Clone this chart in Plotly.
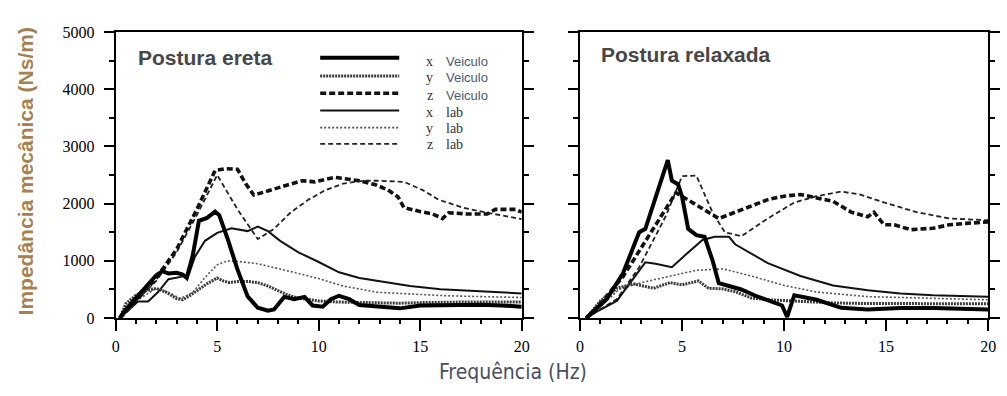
import plotly.graph_objects as go

# ---------------- data: left panel (Postura ereta) ----------------
L_xv_x = [0.2, 0.5, 1, 1.5, 2, 2.3, 2.6, 3, 3.3, 3.5, 3.8, 4.1, 4.5, 4.9, 5.1, 5.5, 6, 6.5, 7, 7.5, 7.8, 8.3, 8.8, 9.3, 9.7, 10.2, 10.6, 11, 11.5, 12, 13, 14, 15, 16, 17, 18, 19, 20]
L_xv_y = [0, 150, 350, 550, 750, 820, 780, 790, 760, 700, 1100, 1700, 1750, 1860, 1800, 1400, 850, 380, 180, 130, 150, 370, 330, 370, 220, 200, 330, 390, 330, 230, 200, 170, 220, 230, 235, 235, 220, 200]

L_yv_x = [0.2, 0.5, 1, 1.5, 2, 2.5, 3, 3.3, 3.6, 4, 4.5, 5, 5.3, 5.6, 6, 6.5, 7, 7.5, 8, 8.5, 9, 10, 11, 12, 13, 14, 15, 16, 17, 18, 19, 20]
L_yv_y = [0, 250, 400, 480, 520, 450, 340, 320, 380, 480, 600, 700, 650, 620, 640, 640, 620, 560, 480, 400, 350, 300, 280, 270, 260, 260, 270, 280, 280, 280, 280, 280]

L_zv_x = [0.2, 1, 2, 3, 4, 4.9, 5.4, 6, 6.4, 6.8, 7.3, 7.8, 8.5, 9.2, 9.8, 10.8, 12.0, 12.8, 13.4, 13.9, 14.2, 14.9, 15.6, 16.1, 16.4, 17.3, 18.3, 18.7, 19.7, 20]
L_zv_y = [0, 300, 700, 1200, 1900, 2580, 2610, 2600, 2350, 2150, 2200, 2260, 2330, 2400, 2380, 2460, 2400, 2330, 2240, 2120, 1930, 1870, 1820, 1740, 1840, 1820, 1820, 1900, 1900, 1850]

L_xl_x = [0.2, 1.1, 1.6, 2.1, 2.6, 3.2, 3.6, 3.9, 4.4, 5.0, 5.7, 6.5, 7.0, 7.5, 8.1, 9.0, 10.0, 11.0, 12.0, 13.0, 14.5, 16.0, 18.0, 20]
L_xl_y = [0, 290, 290, 460, 680, 720, 760, 1070, 1350, 1490, 1570, 1520, 1600, 1520, 1350, 1150, 980, 800, 700, 640, 560, 505, 470, 430]

L_yl_x = [0.2, 1, 2, 2.6, 3.2, 3.8, 4.5, 5.0, 5.5, 6.0, 7.0, 8.0, 9.0, 10.0, 11.2, 12.9, 14.6, 16.3, 18, 20]
L_yl_y = [0, 300, 520, 450, 340, 450, 750, 930, 1000, 990, 950, 870, 780, 690, 560, 450, 420, 390, 375, 360]

L_zl_x = [0.2, 1, 2, 3, 4, 5.0, 6.0, 7.0, 7.8, 8.6, 9.5, 10.3, 11.2, 12.2, 12.9, 14.2, 15.1, 15.9, 17.1, 18.3, 20]
L_zl_y = [0, 300, 650, 1150, 1800, 2500, 1900, 1380, 1560, 1840, 2070, 2230, 2350, 2400, 2400, 2380, 2240, 2070, 1930, 1840, 1730]

# ---------------- data: right panel (Postura relaxada) ----------------
R_xv_x = [0.3, 1.3, 2.1, 2.9, 3.2, 3.7, 4.05, 4.3, 4.5, 4.8, 5.0, 5.3, 5.7, 6.1, 6.5, 6.8, 7.3, 7.9, 8.6, 9.2, 9.9, 10.15, 10.5, 11.6, 12.8, 14.1, 15.7, 17.3, 18.9, 20]
R_xv_y = [0, 330, 780, 1500, 1560, 2120, 2500, 2760, 2400, 2340, 2120, 1560, 1450, 1420, 1000, 610, 560, 500, 390, 310, 220, 20, 400, 320, 180, 150, 175, 175, 165, 150]

R_yv_x = [0.3, 1.0, 1.8, 2.6, 3.6, 4.4, 5.0, 5.8, 6.3, 7.0, 7.6, 8.4, 9.2, 10.8, 12.4, 14, 16, 18, 20]
R_yv_y = [0, 300, 520, 600, 520, 620, 580, 650, 520, 510, 460, 350, 320, 290, 265, 255, 250, 250, 250]

R_zv_x = [0.3, 0.5, 2.1, 3.4, 4.7, 5.5, 6.8, 7.6, 8.4, 9.2, 10.0, 10.8, 11.6, 12.4, 13.3, 14.1, 14.4, 14.9, 15.4, 16.2, 17.3, 18.1, 18.9, 20]
R_zv_y = [0, 55, 720, 1450, 2190, 2020, 1740, 1850, 1960, 2070, 2130, 2160, 2100, 2040, 1850, 1770, 1850, 1630, 1630, 1545, 1570, 1630, 1655, 1680]

R_zl_x = [0.3, 1.8, 2.9, 4.2, 5.0, 5.7, 6.5, 7.1, 7.9, 9.2, 10.5, 11.6, 12.8, 13.7, 14.9, 16.5, 18.1, 20]
R_zl_y = [0, 330, 890, 1780, 2480, 2490, 1840, 1500, 1430, 1740, 2020, 2130, 2210, 2160, 2020, 1850, 1740, 1710]

R_xl_x = [0.3, 0.8, 1.8, 2.4, 3.2, 3.7, 4.5, 5.2, 6.0, 6.6, 7.3, 7.6, 9.2, 10.8, 12.4, 14.1, 15.7, 17.3, 20]
R_xl_y = [0, 110, 300, 585, 975, 950, 890, 1115, 1365, 1420, 1420, 1290, 960, 735, 570, 485, 430, 400, 375]

R_yl_x = [0.3, 1.0, 1.9, 2.9, 4.0, 5.7, 7.0, 8.4, 10.0, 11.6, 14.1, 17.3, 20]
R_yl_y = [0, 200, 500, 610, 700, 835, 860, 735, 570, 455, 375, 345, 320]

# ---------------- labels ----------------
panel_titles = ["Postura ereta", "Postura relaxada"]
legend_axes = ["x", "y", "z", "x", "y", "z"]
legend_names = ["Veiculo", "Veiculo", "Veiculo", "lab", "lab", "lab"]
y_title = "Impedância mecânica (Ns/m)"
x_title = "Frequência (Hz)"
y_ticks = [0, 1000, 2000, 3000, 4000, 5000]
x_ticks = [0, 5, 10, 15, 20]

# ---------------- styles ----------------
styles = [
    dict(width=4.0, dash="solid", color="#000000"),       # x Veiculo
    dict(width=3.0, dash="2px,1px", color="#3a3a3a"),     # y Veiculo
    dict(width=3.6, dash="6px,3px", color="#111111"),     # z Veiculo
    dict(width=2.0, dash="solid", color="#111111"),       # x lab
    dict(width=1.6, dash="2px,2px", color="#555555"),     # y lab
    dict(width=1.8, dash="5px,3px", color="#222222"),     # z lab
]

left_series = [(L_xv_x, L_xv_y), (L_yv_x, L_yv_y), (L_zv_x, L_zv_y),
               (L_xl_x, L_xl_y), (L_yl_x, L_yl_y), (L_zl_x, L_zl_y)]
right_series = [(R_xv_x, R_xv_y), (R_yv_x, R_yv_y), (R_zv_x, R_zv_y),
                (R_xl_x, R_xl_y), (R_yl_x, R_yl_y), (R_zl_x, R_zl_y)]

W, H = 1007, 396
fig = go.Figure()

order = [5, 4, 3, 2, 1, 0]
for i in order:
    xs, ys = left_series[i]
    fig.add_trace(go.Scatter(x=xs, y=ys, mode="lines", line=styles[i],
                             xaxis="x", yaxis="y", showlegend=False, hoverinfo="skip"))
for i in order:
    xs, ys = right_series[i]
    fig.add_trace(go.Scatter(x=xs, y=ys, mode="lines", line=styles[i],
                             xaxis="x2", yaxis="y2", showlegend=False, hoverinfo="skip"))

def px_x(p):
    return p / W

def px_y(p):
    return 1 - p / H

tickfont = dict(family="Liberation Serif, Times New Roman, serif", size=16, color="#000000")

def xaxis_cfg(domain, anchor):
    return dict(domain=domain, anchor=anchor, range=[0, 20], tickvals=x_ticks,
                ticks="outside", ticklen=11, tickwidth=2, tickcolor="black",
                minor=dict(dtick=1, tick0=0, ticks="outside", ticklen=4, tickwidth=2, tickcolor="black"),
                showline=True, linewidth=2, linecolor="black", mirror=True,
                showgrid=False, zeroline=False, tickfont=tickfont, ticklabelstandoff=2)

def yaxis_cfg(anchor, labels):
    return dict(domain=[px_y(324), px_y(25)], anchor=anchor, range=[0, 5000], tickvals=y_ticks,
                ticks="outside", ticklen=10, tickwidth=2, tickcolor="black",
                minor=dict(dtick=500, tick0=0, ticks="outside", ticklen=5, tickwidth=2, tickcolor="black"),
                showline=True, linewidth=2, linecolor="black", mirror="allticks",
                showgrid=False, zeroline=False, showticklabels=labels,
                tickfont=tickfont, ticklabelstandoff=6)

fig.update_layout(
    width=W, height=H, autosize=False,
    margin=dict(l=0, r=0, t=0, b=0),
    paper_bgcolor="white", plot_bgcolor="white",
    xaxis=xaxis_cfg([px_x(113), px_x(524)], "y"),
    yaxis=yaxis_cfg("x", True),
    xaxis2=xaxis_cfg([px_x(583), px_x(996)], "y2"),
    yaxis2=yaxis_cfg("x2", False),
    showlegend=False,
)

annotations = []
shapes = []
title_font = dict(family="Liberation Sans, Arial, sans-serif", size=21, color="#474747")
annotations.append(dict(text="<b>" + panel_titles[0] + "</b>", x=px_x(134), y=px_y(52), xref="paper", yref="paper",
                        xanchor="left", yanchor="middle", showarrow=False, font=title_font))
annotations.append(dict(text="<b>" + panel_titles[1] + "</b>", x=px_x(602), y=px_y(49), xref="paper", yref="paper",
                        xanchor="left", yanchor="middle", showarrow=False, font=title_font))
annotations.append(dict(text="<b>" + y_title + "</b>", x=px_x(22), y=px_y(171), xref="paper", yref="paper",
                        xanchor="center", yanchor="middle", textangle=-90, showarrow=False,
                        font=dict(family="Liberation Sans, Arial, sans-serif", size=21, color="#a8804f")))
annotations.append(dict(text=x_title, x=px_x(515), y=px_y(380), xref="paper", yref="paper",
                        xanchor="center", yanchor="middle", showarrow=False,
                        font=dict(family="Liberation Sans Narrow, Arial Narrow, DejaVu Sans Condensed, sans-serif",
                                  size=21, color="#4a4f5e")))
# legend keys
leg_line_y = [52, 71, 89, 107, 125, 142]
leg_text_y = [56, 73, 91, 109, 126, 143]
for i in range(6):
    st = styles[i]
    shapes.append(dict(type="line", xref="paper", yref="paper",
                       x0=px_x(320), x1=px_x(400), y0=px_y(leg_line_y[i]), y1=px_y(leg_line_y[i]),
                       line=dict(color=st["color"], width=st["width"], dash=st["dash"])))
    annotations.append(dict(text=legend_axes[i], x=px_x(431), y=px_y(leg_text_y[i]), xref="paper", yref="paper",
                            xanchor="center", yanchor="middle", showarrow=False, borderpad=0,
                            font=dict(family="Liberation Serif, Times New Roman, serif", size=14, color="#333333")))
    if legend_names[i] == "Veiculo":
        fnt = dict(family="Liberation Sans, Arial, sans-serif", size=13, color="#4d5872")
    else:
        fnt = dict(family="Liberation Serif, Times New Roman, serif", size=14, color="#333333")
    annotations.append(dict(text=legend_names[i], x=px_x(446), y=px_y(leg_text_y[i]), xref="paper", yref="paper",
                            xanchor="left", yanchor="middle", showarrow=False, borderpad=0, font=fnt))

fig.update_layout(annotations=annotations, shapes=shapes)

fig.write_html("out.html")
